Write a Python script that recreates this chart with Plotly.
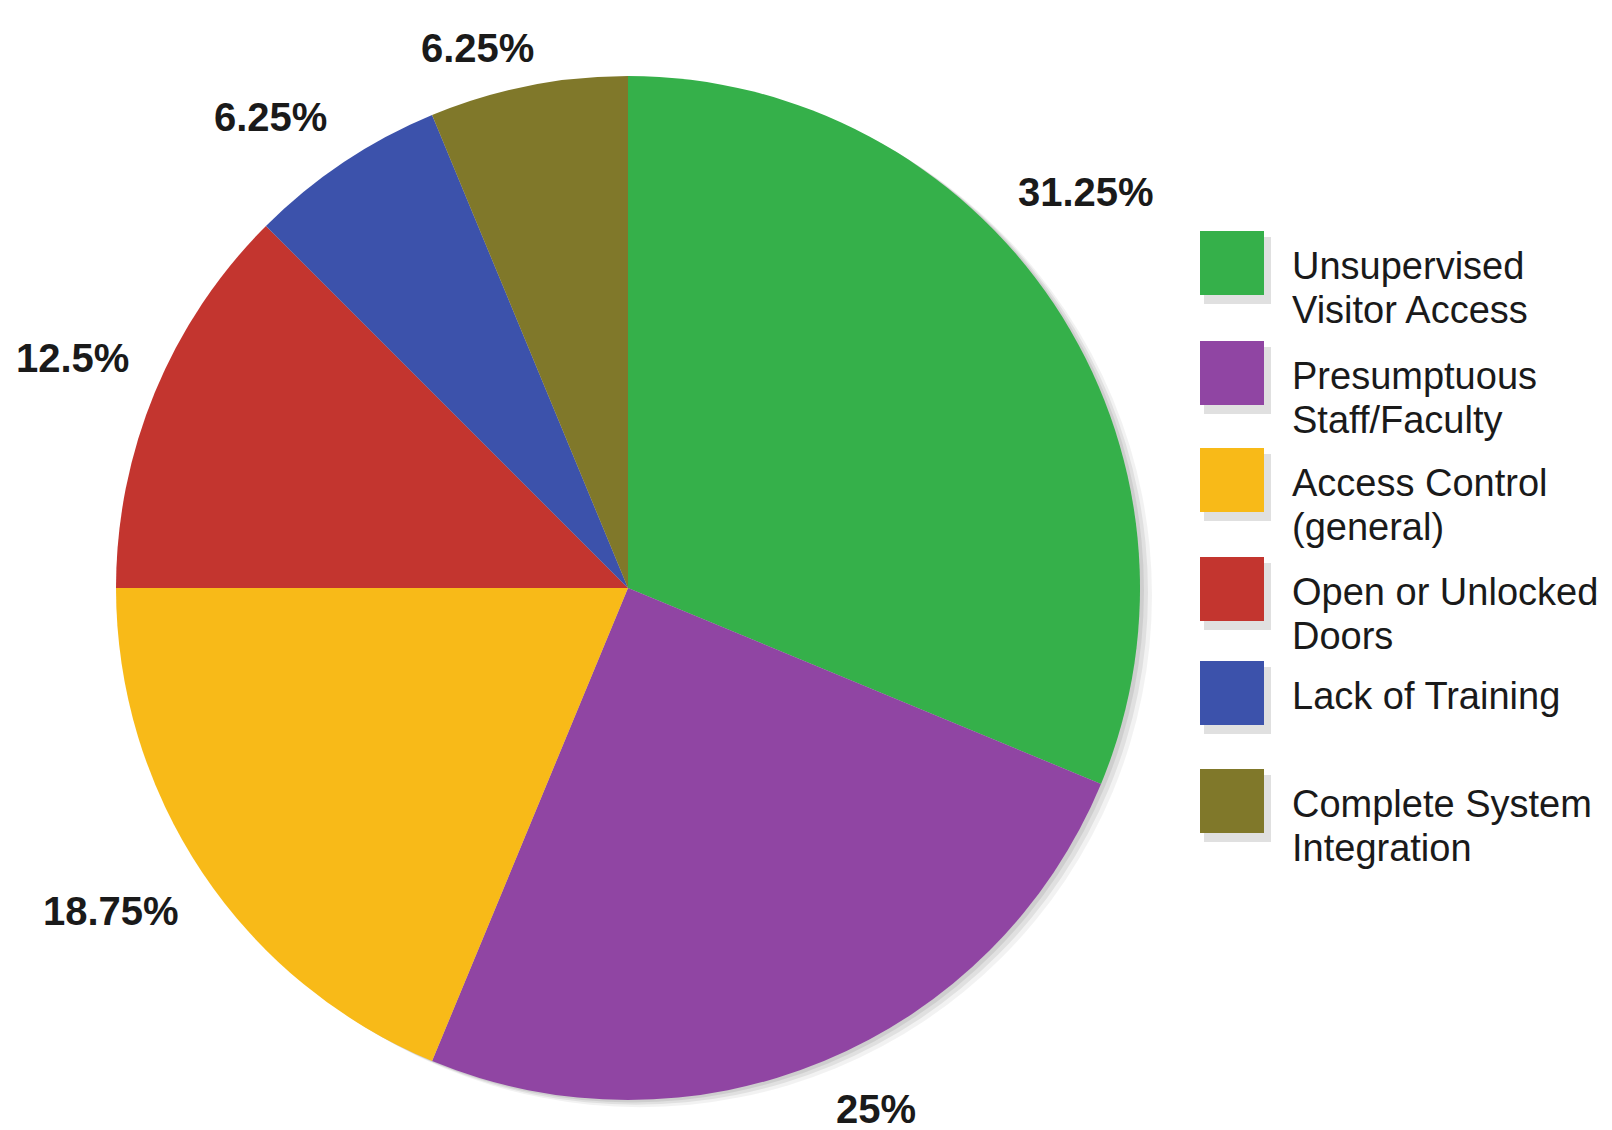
import math
import plotly.graph_objects as go

categories = ["Unsupervised<br>Visitor Access", "Presumptuous<br>Staff/Faculty",
              "Access Control<br>(general)", "Open or Unlocked<br>Doors",
              "Lack of Training", "Complete System<br>Integration"]
values = [31.25, 25, 18.75, 12.5, 6.25, 6.25]
value_labels = ["31.25%", "25%", "18.75%", "12.5%", "6.25%", "6.25%"]
colors = ["#35b04a", "#9045a3", "#f8ba18", "#c3352f", "#3c52ab", "#80782a"]

# layout tweak: angular nudge (degrees) of each percentage label from its slice centre
label_nudge_deg = [-10, 0, 0, 0, 0, -5]

W, H = 1612, 1130
cx, cy_top, R = 628, 588, 512  # pie centre (px from left / top) and radius
cy = H - cy_top
dom_x = [(cx - R) / W, (cx + R) / W]
dom_y = [(cy - R) / H, (cy + R) / H]

fig = go.Figure()
fig.add_trace(go.Pie(
    labels=[c.replace("<br>", " ") for c in categories], values=values,
    sort=False, direction="clockwise", rotation=0,
    marker=dict(colors=colors, line=dict(width=0)),
    textinfo="none", hoverinfo="label+percent", showlegend=False,
    domain=dict(x=dom_x, y=dom_y),
))

shapes = []
# soft drop shadow behind the pie
for off, alpha in [(12, 0.05), (8, 0.07), (4, 0.08)]:
    shapes.append(dict(type="circle", xref="paper", yref="paper",
                       x0=(cx - R + off) / W, x1=(cx + R + off) / W,
                       y0=(cy - R - off * 0.6) / H, y1=(cy + R - off * 0.6) / H,
                       fillcolor=f"rgba(0,0,0,{alpha})", line=dict(width=0), layer="below"))

annotations = []
# percentage labels placed outside each slice, anchored toward the slice's mid angle
total = sum(values)
cum = 0.0
for v, lab, nudge in zip(values, value_labels, label_nudge_deg):
    mid = (cum + v / 2) / total * 2 * math.pi + math.radians(nudge)
    cum += v
    s, c = math.sin(mid), math.cos(mid)
    dist = R * 1.05
    xa = "left" if s > 0.3 else ("right" if s < -0.3 else "center")
    ya = "bottom" if c > 0.3 else ("top" if c < -0.3 else "middle")
    annotations.append(dict(
        x=(cx + dist * s) / W, y=(cy + dist * c) / H,
        xref="paper", yref="paper", text=f"<b>{lab}</b>", showarrow=False,
        font=dict(family="Liberation Sans, Arial", size=40, color="#1a1a1a"),
        xanchor=xa, yanchor=ya))

# custom legend: large squares with two-line labels
item_tops = [231, 341, 448, 557, 661, 769]  # px from top
sq = 64
lx = 1200
for top, col, cat in zip(item_tops, colors, categories):
    shapes.append(dict(type="rect", xref="paper", yref="paper",
                       x0=(lx + 4) / W, x1=(lx + sq + 7) / W,
                       y0=1 - (top + sq + 9) / H, y1=1 - (top + 6) / H,
                       fillcolor="rgba(0,0,0,0.12)", line=dict(width=0), layer="below"))
    shapes.append(dict(type="rect", xref="paper", yref="paper",
                       x0=lx / W, x1=(lx + sq) / W,
                       y0=1 - (top + sq) / H, y1=1 - top / H,
                       fillcolor=col, line=dict(width=0)))
    lines = cat.split("<br>")
    for i, ln in enumerate(lines):
        yc = top + 35 + i * 44
        annotations.append(dict(
            x=1290 / W, y=1 - yc / H, xref="paper", yref="paper", text=ln,
            showarrow=False, xanchor="left", yanchor="middle",
            font=dict(family="Liberation Sans, Arial", size=38, color="#1a1a1a")))

fig.update_layout(
    width=W, height=H, margin=dict(l=0, r=0, t=0, b=0),
    paper_bgcolor="white", plot_bgcolor="white",
    annotations=annotations, shapes=shapes,
)
fig.write_html("out.html", config={"displayModeBar": False},
               post_script="document.body.style.margin='0';document.body.style.overflow='hidden';")
